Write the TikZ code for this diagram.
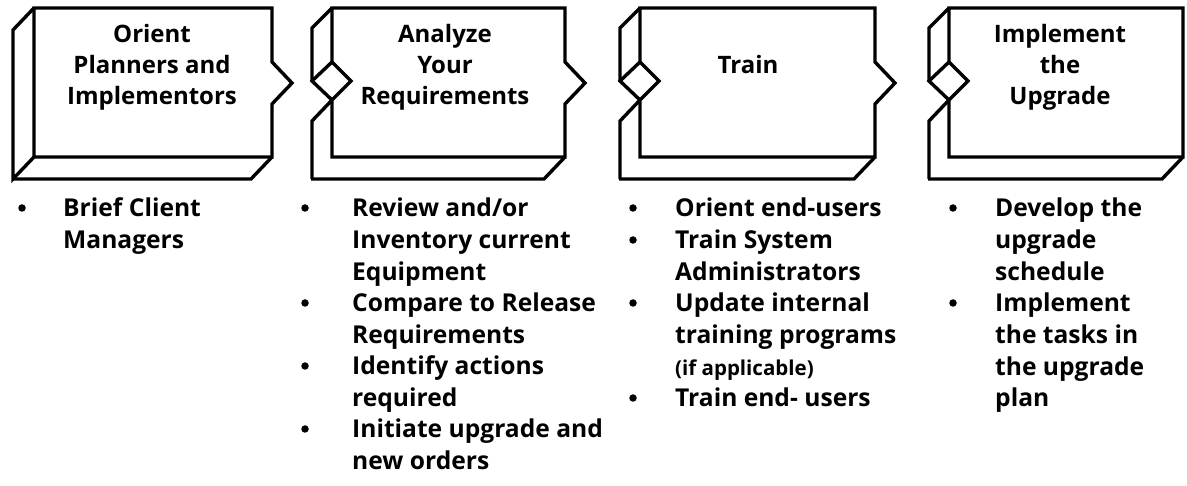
\documentclass[tikz,border=0pt]{standalone}
\usepackage{fontspec}
\setmainfont{Open Sans}
\newcommand\StageBox[4]{%
  % #1 left x, #2 right x, #3 diamond (1/0), #4 chevron (1/0)
  \ifnum#3=0
    \draw[boxline] (#1,8) -- (#2,8)
      \ifnum#4=1 -- (#2,62) -- ({#2+20},83) -- (#2,104) \fi
      -- (#2,157) -- (#1,157) -- cycle;
    \draw[boxline] (#1,8) -- ({#1-21},30) -- ({#1-21},179) -- (#1,157);
  \else
    \draw[boxline] (#1,62) -- (#1,8) -- (#2,8)
      \ifnum#4=1 -- (#2,62) -- ({#2+20},83) -- (#2,104) \fi
      -- (#2,157) -- (#1,157) -- (#1,100) -- ({#1+19},81) -- cycle;
    \draw[boxline] (#1,62) -- ({#1-20},81) -- (#1,100);
    \draw[boxline] (#1,8) -- ({#1-20},28) -- ({#1-20},81);
    \draw[boxline] (#1,100) -- ({#1-20},121) -- ({#1-20},179);
  \fi
  \draw[boxline] ({#1-21},179) -- ({#2-21},179) -- (#2,157);
}
\begin{document}
\begin{tikzpicture}[x=1pt,y=-1pt,
  boxline/.style={line width=3.4pt, line join=miter, black},
  title/.style={inner sep=0pt, anchor=base, font=\fontsize{24}{31}\selectfont\bfseries},
  item/.style={inner sep=0pt, anchor=base west, font=\fontsize{24.6}{31.6}\selectfont\bfseries},
  bul/.style={circle, fill=black, inner sep=0pt, minimum size=7.5pt}]
\useasboundingbox (0,0) rectangle (1187,486);
\fill[white] (0,0) rectangle (1187,486);

\StageBox{34}{272}{0}{1}
\StageBox{332}{565}{1}{1}
\StageBox{640}{875}{1}{1}
\StageBox{949}{1183}{1}{0}

\node[title] (h1) at (152,43) {\parbox[t]{240pt}{\centering Orient\\Planners and\\Implementors}};
\node[title] (h2) at (445,43) {\parbox[t]{240pt}{\centering Analyze\\Your\\Requirements}};
\node[title] (h3) at (748,74) {\parbox[t]{240pt}{\centering Train}};
\node[title] (h4) at (1060,43) {\parbox[t]{240pt}{\centering Implement\\the\\Upgrade}};

% column 1
\node[bul] (b11) at (22,208) {};
\node[item] (t11) at (63,217) {\parbox[t]{230pt}{Brief Client\\Managers}};
% column 2
\node[bul] (b21) at (305,208) {};
\node[item] (t21) at (352,217) {\parbox[t]{280pt}{Review and/or\\Inventory current\\Equipment}};
\node[bul] (b22) at (305,303) {};
\node[item] (t22) at (352,312) {\parbox[t]{280pt}{Compare to Release\\Requirements}};
\node[bul] (b23) at (305,366) {};
\node[item] (t23) at (352,375) {\parbox[t]{280pt}{Identify actions\\required}};
\node[bul] (b24) at (305,429) {};
\node[item] (t24) at (352,438) {\parbox[t]{280pt}{Initiate upgrade and\\new orders}};
% column 3
\node[bul] (b31) at (633,208) {};
\node[item] (t31) at (675,217) {\parbox[t]{260pt}{Orient end-users}};
\node[bul] (b32) at (633,240) {};
\node[item] (t32) at (675,249) {\parbox[t]{260pt}{Train System\\Administrators}};
\node[bul] (b33) at (633,303) {};
\node[item] (t33) at (675,312) {\parbox[t]{260pt}{Update internal\\training programs}};
\node[item, font=\fontsize{20.5}{22}\selectfont\bfseries] (t33b) at (675,376) {(if applicable)};
\node[bul] (b34) at (633,398) {};
\node[item] (t34) at (675,407) {\parbox[t]{260pt}{Train end- users}};
% column 4
\node[bul] (b41) at (953,208) {};
\node[item] (t41) at (995,217) {\parbox[t]{190pt}{Develop the\\upgrade\\schedule}};
\node[bul] (b42) at (953,303) {};
\node[item] (t42) at (995,312) {\parbox[t]{190pt}{Implement\\the tasks in\\the upgrade\\plan}};
\end{tikzpicture}
\end{document}
